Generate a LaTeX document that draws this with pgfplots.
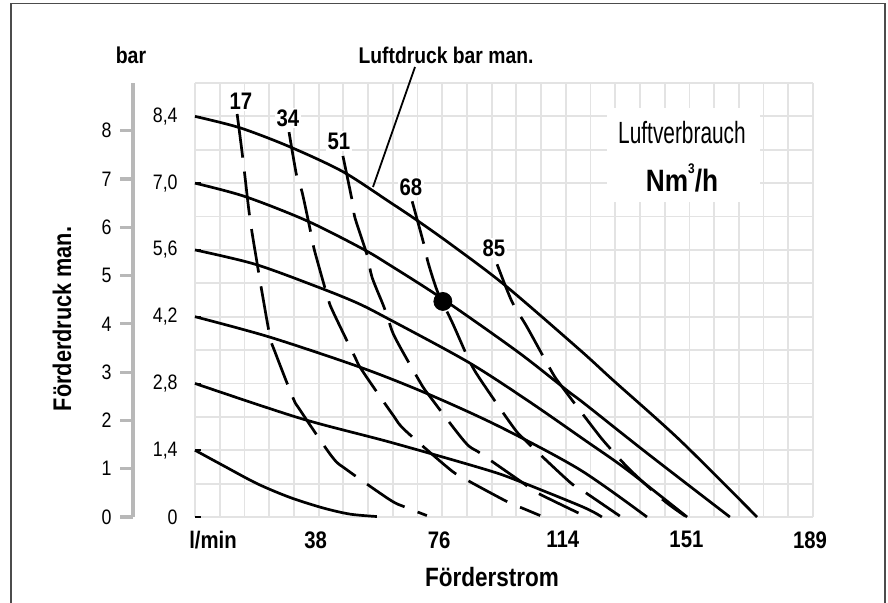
\documentclass[border=0pt]{standalone}
\usepackage{fontspec}
\setmainfont[FakeStretch=0.85]{Liberation Sans}
\newfontfamily\lightcond[FakeStretch=0.68]{Liberation Sans}
\usepackage{pgfplots}
\pgfplotsset{compat=1.18}
\definecolor{gridc}{gray}{0.89}
\definecolor{framec}{gray}{0.3}
\definecolor{scalec}{gray}{0.72}
\pgfplotsset{
  solidc/.style={black, line width=1.35bp, smooth, no marks},
  dashc/.style={black, line width=1.35bp, smooth, no marks, dash pattern=on 22bp off 7bp},
}
\begin{document}
\begin{tikzpicture}
\begin{axis}[
  at={(0,0)}, anchor=south west,
  scale only axis, width=309bp, height=217bp,
  xmin=0, xmax=189.25, ymin=0, ymax=9.1,
  axis line style={draw=none},
  clip=false,
  tick pos=left,
  xtick={0,37.85,75.7,113.55,151.4,189.25},
  xticklabels={,38,76,114,151,189},
  minor xtick={7.57,15.14,22.71,30.28,45.42,52.99,60.56,68.13,83.27,90.84,98.41,105.98,121.12,128.69,136.26,143.83,158.97,166.54,174.11,181.68},
  ytick={0,1.4,2.8,4.2,5.6,7.0,8.4},
  yticklabels={0,{1,4},{2,8},{4,2},{5,6},{7,0},{8,4}},
  minor ytick={0.7,2.1,3.5,4.9,6.3,7.7,9.1},
  grid=both,
  major grid style={gridc, line width=0.9bp},
  minor grid style={gridc, line width=0.9bp},
  xtick style={draw=none},
  minor tick length=0pt,
  major tick length=3bp,
  tick align=inside,
  ytick style={black, line width=0.8bp},
  xticklabel style={font=\bfseries\fontsize{12}{12}\selectfont, inner sep=0pt, yshift=-7bp, xshift=-1.5bp},
  yticklabel style={font=\fontsize{10.5}{10.5}\selectfont, inner sep=0pt, xshift=-8.5bp},
]
% Luftdruck curves (solid)
\addplot[solidc] coordinates {(0,8.4) (13.8,8.16) (29.1,7.76) (45.3,7.24) (59.7,6.60) (68.0,6.22) (78.7,5.70) (94.9,4.86) (117.9,3.50) (128.0,2.87) (148.5,1.61) (172.1,0)};
\addplot[solidc] coordinates {(0,7.0) (15.3,6.72) (34.3,6.21) (51.4,5.62) (59.7,5.28) (75.9,4.57) (98.9,3.46) (114.2,2.64) (119.4,2.37) (138.4,1.34) (163.8,0)};
\addplot[solidc] coordinates {(0,5.6) (18.4,5.30) (37.7,4.82) (49.6,4.49) (58.8,4.17) (83.6,3.25) (101.7,2.45) (119.4,1.61) (132.3,0.99) (150.7,0)};
\addplot[solidc] coordinates {(0,4.2) (23.0,3.77) (51.4,3.12) (72.0,2.56) (93.4,1.89) (117.9,0.99) (138.4,0)};
\addplot[solidc] coordinates {(0,2.8) (32.2,2.07) (59.7,1.57) (88.8,1.00) (98.9,0.76) (118.8,0.21) (124.6,0)};
\addplot[solidc] coordinates {(0,1.4) (8.6,1.08) (19.0,0.70) (29.1,0.41) (39.2,0.19) (47.5,0.06) (55.7,0.01)};
% Luftverbrauch curves (dashed)
\addplot[dashc] coordinates {(12.9,8.45) (14.7,7.49) (16.8,6.27) (19.0,5.33) (20.5,4.72) (23.0,3.77) (24.5,3.46) (30.0,2.50) (32.2,2.24) (42.0,1.26) (46.5,0.99) (59.7,0.36) (64.3,0.21) (71.0,0.03)};
\addplot[dashc] coordinates {(28.8,8.07) (31.2,7.13) (32.8,6.81) (35.8,5.85) (36.7,5.56) (40.7,4.59) (42.3,4.30) (49.0,3.35) (51.1,3.08) (60.6,2.14) (64.3,1.82) (77.5,1.03) (82.1,0.82) (95.9,0.31) (100.1,0.19) (105.7,0.03)};
\addplot[dashc] coordinates {(45.3,7.57) (48.4,6.54) (49.0,6.27) (52.7,5.49) (54.2,5.03) (57.6,4.45) (59.1,4.17) (61.2,3.77) (68.9,2.83) (72.0,2.52) (82.7,1.57) (87.3,1.34) (100.1,0.73) (105.0,0.50) (119.4,0.02)};
\addplot[dashc] coordinates {(66.5,6.62) (70.4,5.64) (71.4,5.33) (74.4,4.70) (78.7,4.09) (84.2,3.25) (87.9,2.83) (97.4,1.89) (101.1,1.61) (114.8,0.73) (119.4,0.52) (130.1,0.02)};
\addplot[dashc] coordinates {(92.5,5.30) (97.1,4.51) (101.7,3.98) (109.3,3.04) (112.4,2.73) (122.5,1.82) (126.2,1.51) (133.2,0.99) (143.3,0.36) (150.1,0.02)};
% operating point
\addplot[only marks, mark=*, mark size=4.5bp, black] coordinates {(75.9,4.52)};
\end{axis}
% left scale (Foerderdruck in bar)
\begin{axis}[
  at={(-31bp,0)}, anchor=south west,
  scale only axis, width=1bp, height=217bp,
  xmin=0, xmax=1, ymin=0, ymax=8.986,
  axis y line=left, axis x line=none,
  y axis line style={scalec, line width=1.6bp, -},
  ytick={0,1,2,3,4,5,6,7,8},
  yticklabels={0,1,2,3,4,5,6,7,8},
  tick align=outside,
  major tick length=6.5bp,
  ytick style={scalec, line width=1.6bp},
  yticklabel style={font=\fontsize{10.5}{10.5}\selectfont, inner sep=0pt, xshift=-4bp},
]
\end{axis}
\begin{scope}[x=0.5bp,y=-0.5bp,shift={(-97.5bp,258.5bp)}]
\useasboundingbox (0,0) rectangle (888,603);
\draw[framec, line width=0.7bp] (11,603) -- (11,3.5) -- (885,3.5) -- (885,603);
\node[font=\bfseries\fontsize{11.5}{11.5}\selectfont] at (131,55) {bar};
\node[font=\bfseries\fontsize{11.4}{11.4}\selectfont] at (446,55) {Luftdruck bar man.};
\draw[black, line width=0.9bp] (415,67) -- (373,187);
\fill[white] (607,108) rectangle (760,202);
\node[font=\lightcond\fontsize{15.4}{15.4}\selectfont] at (682,133) {Luftverbrauch};
\node[font=\bfseries\fontsize{15.5}{15.5}\selectfont] at (682,178) {Nm\raisebox{1.05ex}{\fontsize{7}{7}\selectfont 3}/h};
\foreach \t/\xx/\yy in {17/241/101, 34/288/118, 51/339/141, 68/411/187, 85/494/248}
  \node[fill=white, inner sep=1bp, font=\bfseries\fontsize{12}{12}\selectfont] at (\xx,\yy) {\t};
\node[font=\bfseries\fontsize{12}{12}\selectfont] at (213,540) {l/min};
\node[font=\bfseries\fontsize{13.3}{13.3}\selectfont] at (492,577) {Förderstrom};
\node[font=\bfseries\fontsize{12.8}{12.8}\selectfont, rotate=90] at (62,319) {Förderdruck man.};
\end{scope}
\end{tikzpicture}
\end{document}
